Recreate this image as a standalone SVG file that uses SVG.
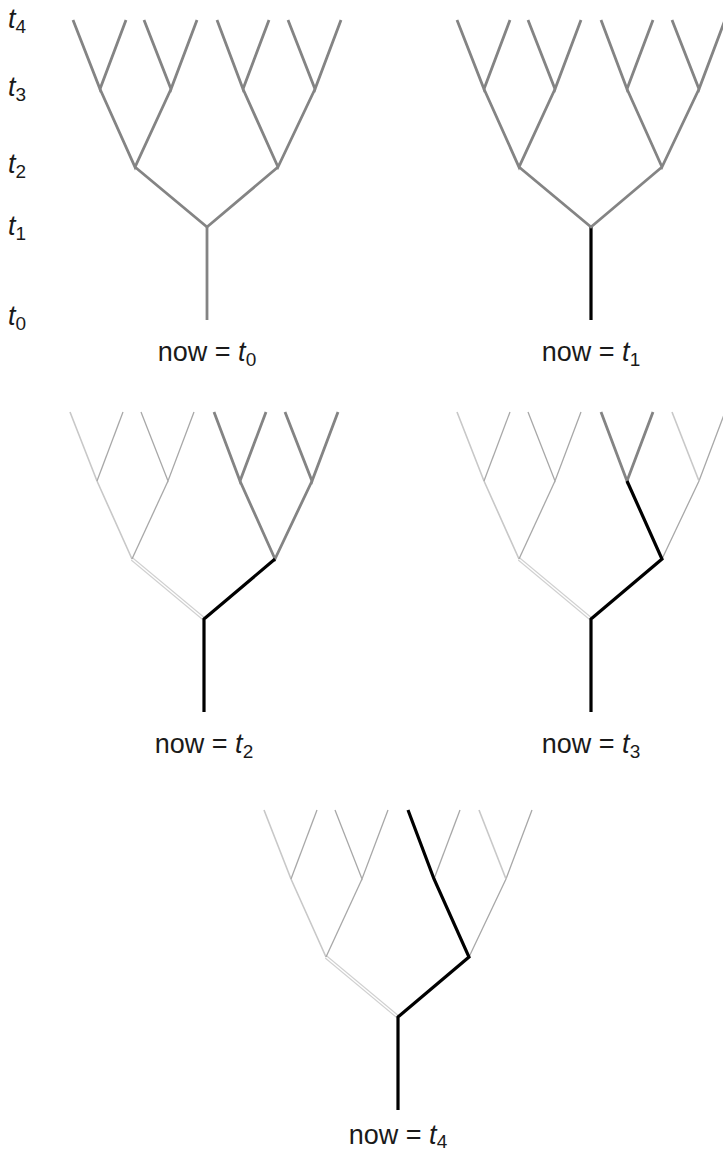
<svg xmlns="http://www.w3.org/2000/svg" width="723" height="1156" viewBox="0 0 723 1156">
<style>
  .g { stroke: #848484; stroke-width: 2.8; fill: none; stroke-linecap: butt; stroke-linejoin: miter; }
  .k { stroke: #000; stroke-width: 3.2; fill: none; stroke-linecap: butt; stroke-linejoin: miter; }
  .f { stroke: #a8a8a8; stroke-width: 1.3; fill: none; }
  .fl { stroke: #c8c8c8; stroke-width: 1.6; fill: none; }
  .go { stroke: #d0d0d0; stroke-width: 3.6; fill: none; }
  .gi { stroke: #fff; stroke-width: 1.4; fill: none; }
  text { font-family: "Liberation Sans", Arial, sans-serif; font-size: 27px; fill: #1a1a1a; }
  .it { font-style: italic; }
  .sub { font-size: 19px; }
</style>
<rect width="723" height="1156" fill="#fff"/>

<g id="time-labels">
  <text x="8" y="28"><tspan class="it">t</tspan><tspan class="sub" dy="5">4</tspan></text>
  <text x="8" y="96"><tspan class="it">t</tspan><tspan class="sub" dy="5">3</tspan></text>
  <text x="8" y="173"><tspan class="it">t</tspan><tspan class="sub" dy="5">2</tspan></text>
  <text x="8" y="235"><tspan class="it">t</tspan><tspan class="sub" dy="5">1</tspan></text>
  <text x="8" y="325"><tspan class="it">t</tspan><tspan class="sub" dy="5">0</tspan></text>
</g>

<g id="connectors">
  <!-- Tree 1: now = t0 -->
  <g id="tree1-edges">
    <path class="g" d="M207,320 L207,227"/>
    <path class="g" d="M135,167 L207,227 L278,167"/>
    <path class="g" d="M100,89 L135,167 L171,89"/>
    <path class="g" d="M243,89 L278,167 L315,89"/>
    <path class="g" d="M73,20 L100,89 L126,20"/>
    <path class="g" d="M144,20 L171,89 L197,20"/>
    <path class="g" d="M217,20 L243,89 L269,20"/>
    <path class="g" d="M288,20 L315,89 L341,20"/>
  </g>
  <!-- Tree 2: now = t1 -->
  <g id="tree2-edges" transform="translate(384,0)">
    <path class="k" d="M207,320 L207,227"/>
    <path class="g" d="M135,167 L207,227 L278,167"/>
    <path class="g" d="M100,89 L135,167 L171,89"/>
    <path class="g" d="M243,89 L278,167 L315,89"/>
    <path class="g" d="M73,20 L100,89 L126,20"/>
    <path class="g" d="M144,20 L171,89 L197,20"/>
    <path class="g" d="M217,20 L243,89 L269,20"/>
    <path class="g" d="M288,20 L315,89 L341,20"/>
  </g>
  <!-- Tree 3: now = t2 -->
  <g id="tree3-edges" transform="translate(-3,392)">
    <path class="go" d="M135,167 L207,227"/>
    <path class="gi" d="M135,167 L207,227"/>
    <path class="fl" d="M135,167 L100,89 L73,20"/>
    <path class="f" d="M135,167 L171,89"/>
    <path class="f" d="M100,89 L126,20"/>
    <path class="f" d="M144,20 L171,89 L197,20"/>
    <path class="g" d="M243,89 L278,167 L315,89"/>
    <path class="g" d="M217,20 L243,89 L269,20"/>
    <path class="g" d="M288,20 L315,89 L341,20"/>
    <path class="k" d="M207,320 L207,227 L278,167"/>
  </g>
  <!-- Tree 4: now = t3 -->
  <g id="tree4-edges" transform="translate(384,392)">
    <path class="go" d="M135,167 L207,227"/>
    <path class="gi" d="M135,167 L207,227"/>
    <path class="fl" d="M135,167 L100,89 L73,20"/>
    <path class="f" d="M135,167 L171,89"/>
    <path class="f" d="M100,89 L126,20"/>
    <path class="f" d="M144,20 L171,89 L197,20"/>
    <path class="f" d="M278,167 L315,89 L341,20"/>
    <path class="fl" d="M288,20 L315,89"/>
    <path class="g" d="M217,20 L243,89 L269,20"/>
    <path class="k" d="M207,320 L207,227 L278,167 L243,89"/>
  </g>
  <!-- Tree 5: now = t4 -->
  <g id="tree5-edges" transform="translate(191,790)">
    <path class="go" d="M135,167 L207,227"/>
    <path class="gi" d="M135,167 L207,227"/>
    <path class="fl" d="M135,167 L100,89 L73,20"/>
    <path class="f" d="M135,167 L171,89"/>
    <path class="f" d="M100,89 L126,20"/>
    <path class="f" d="M144,20 L171,89 L197,20"/>
    <path class="f" d="M278,167 L315,89 L341,20"/>
    <path class="fl" d="M288,20 L315,89"/>
    <path class="f" d="M243,89 L269,20"/>
    <path class="k" d="M207,320 L207,227 L278,167 L243,89 L217,20"/>
  </g>
</g>

<g id="caption-t0"><text x="207" y="361" text-anchor="middle">now = <tspan class="it">t</tspan><tspan class="sub" dy="5">0</tspan></text></g>
<g id="caption-t1"><text x="591" y="361" text-anchor="middle">now = <tspan class="it">t</tspan><tspan class="sub" dy="5">1</tspan></text></g>
<g id="caption-t2"><text x="204" y="753" text-anchor="middle">now = <tspan class="it">t</tspan><tspan class="sub" dy="5">2</tspan></text></g>
<g id="caption-t3"><text x="591" y="753" text-anchor="middle">now = <tspan class="it">t</tspan><tspan class="sub" dy="5">3</tspan></text></g>
<g id="caption-t4"><text x="398" y="1144" text-anchor="middle">now = <tspan class="it">t</tspan><tspan class="sub" dy="4">4</tspan></text></g>
</svg>
